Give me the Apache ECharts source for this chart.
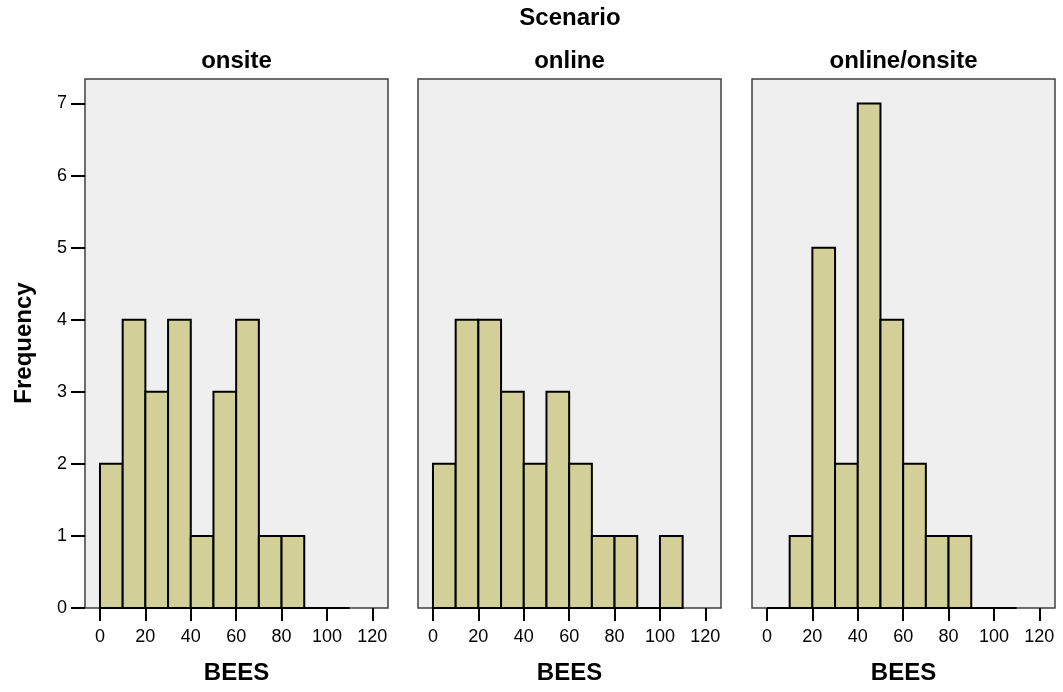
<!DOCTYPE html>
<html>
<head>
<meta charset="utf-8">
<script src="https://cdn.jsdelivr.net/npm/echarts@6/dist/echarts.min.js"></script>
<style>
  html, body { margin: 0; padding: 0; background: #ffffff; }
  #chart { width: 1063px; height: 692px; }
</style>
</head>
<body>
<div id="chart"></div>
<script>
// ---- data ----
const panelNames = ['onsite', 'online', 'online/onsite'];
const binStarts = [0, 10, 20, 30, 40, 50, 60, 70, 80, 90, 100];
const binWidth = 10;
const countsOnsite = [2, 4, 3, 4, 1, 3, 4, 1, 1, 0, 0];
const countsOnline = [2, 4, 4, 3, 2, 3, 2, 1, 1, 0, 1];
const countsOnlineOnsite = [0, 1, 5, 2, 7, 4, 2, 1, 1, 0, 0];
const xTickValues = [0, 20, 40, 60, 80, 100, 120];
const yTickValues = [0, 1, 2, 3, 4, 5, 6, 7];
const outerTitle = 'Scenario';
const xName = 'BEES';
const yName = 'Frequency';

const allCounts = [countsOnsite, countsOnline, countsOnlineOnsite];

const FONT = '"Liberation Sans", Arial, Helvetica, sans-serif';
const gridLefts = [85, 418, 752];
const gridWidth = 303;
const gridTop = 79;
const gridHeight = 529;

const grids = [], xAxes = [], yAxes = [], series = [], graphics = [];

allCounts.forEach((counts, i) => {
  grids.push({
    left: gridLefts[i], top: gridTop, width: gridWidth, height: gridHeight,
    show: true, backgroundColor: '#efefef', borderColor: '#404040', borderWidth: 1.5
  });
  xAxes.push({
    type: 'value', gridIndex: i, min: -6.6, max: 126.9, position: 'bottom',
    name: xName, nameLocation: 'middle', nameGap: 53,
    nameTextStyle: { fontFamily: FONT, fontSize: 24, fontWeight: 'bold', color: '#000' },
    axisLine: { show: false, onZero: false },
    axisTick: { show: true, inside: false, length: 13, customValues: xTickValues,
      lineStyle: { color: '#000', width: 2 } },
    axisLabel: { show: true, margin: 20, customValues: xTickValues,
      fontFamily: FONT, fontSize: 18, color: '#000' },
    splitLine: { show: false }
  });
  yAxes.push({
    type: 'value', gridIndex: i, min: 0, max: 7.34, position: 'left',
    axisLine: { show: false, onZero: false },
    axisTick: { show: i === 0, inside: false, length: 14, customValues: yTickValues,
      lineStyle: { color: '#000', width: 2 } },
    axisLabel: { show: i === 0, margin: 18, customValues: yTickValues,
      fontFamily: FONT, fontSize: 18, color: '#000' },
    splitLine: { show: false }
  });
  series.push({
    type: 'custom',
    xAxisIndex: i, yAxisIndex: i,
    clip: false,
    data: binStarts.map((s, k) => [s, s + binWidth, counts[k]]),
    renderItem: function (params, api) {
      const p0 = api.coord([api.value(0), 0]);
      const p1 = api.coord([api.value(1), api.value(2)]);
      return {
        type: 'rect',
        shape: { x: p0[0], y: p1[1], width: p1[0] - p0[0], height: p0[1] - p1[1] },
        style: { fill: '#d3cf98', stroke: '#000000', lineWidth: 2 }
      };
    }
  });
  graphics.push({
    type: 'text',
    x: gridLefts[i] + gridWidth / 2, y: 61,
    style: { text: panelNames[i], fontFamily: FONT, fontSize: 24, fontWeight: 'bold',
      fill: '#000', align: 'center', verticalAlign: 'middle' }
  });
});

graphics.push({
  type: 'text', x: 570, y: 18,
  style: { text: outerTitle, fontFamily: FONT, fontSize: 24, fontWeight: 'bold',
    fill: '#000', align: 'center', verticalAlign: 'middle' }
});
graphics.push({
  type: 'text', x: 24, y: 343, rotation: Math.PI / 2,
  style: { text: yName, fontFamily: FONT, fontSize: 24, fontWeight: 'bold',
    fill: '#000', align: 'center', verticalAlign: 'middle' }
});

const chart = echarts.init(document.getElementById('chart'), null, { renderer: 'canvas' });
chart.setOption({
  animation: false,
  backgroundColor: '#ffffff',
  grid: grids,
  xAxis: xAxes,
  yAxis: yAxes,
  series: series,
  graphic: graphics
});
</script>
</body>
</html>
